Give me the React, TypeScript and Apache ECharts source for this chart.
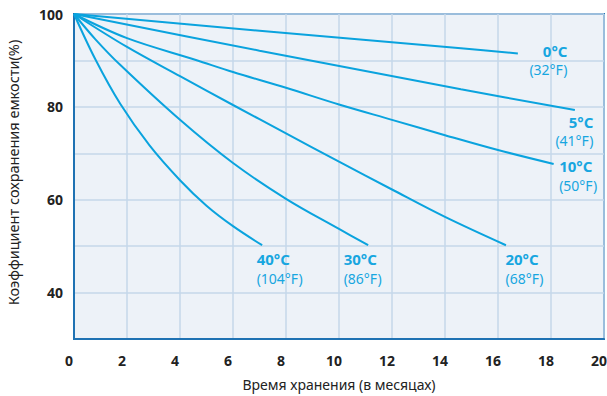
import React, { useEffect, useRef } from "react";
import * as echarts from "echarts";

// X axis (months) and Y axis (capacity %) ticks
const xTicks = [0, 2, 4, 6, 8, 10, 12, 14, 16, 18, 20];
const yLabelTicks = [40, 60, 80, 100];

// Curves: storage time (months) vs. capacity retention (%)
const months0C = [0, 7, 14.6, 16.75];
const cap0C = [100, 96.4, 92.6, 91.5];

const months5C = [0, 7, 14.6, 18.9];
const cap5C = [100, 92.1, 83.8, 79.3];

const months10C = [0, 2, 4.6, 6, 8, 10, 12, 14, 16, 18.1];
const cap10C = [100, 94.8, 90.1, 87.5, 84.1, 80.5, 77.2, 73.9, 70.7, 67.7];

const months20C = [0, 2, 4, 6, 8, 10, 12, 14, 16.3];
const cap20C = [100, 92.9, 86.6, 80.4, 74.3, 68.2, 62.2, 56.3, 50.2];

const months30C = [0, 0.8, 1.75, 4, 6, 8, 10, 11.1];
const cap30C = [100, 94.6, 89, 77.2, 67.9, 60.2, 53.7, 50.2];

const months40C = [0, 0.8, 1.75, 2.85, 4, 5, 6, 7.1];
const cap40C = [100, 90.3, 80.6, 71.7, 64.2, 58.7, 54.3, 50.2];

const celsius = ["0°C", "5°C", "10°C", "20°C", "30°C", "40°C"];
const fahrenheit = ["(32°F)", "(41°F)", "(50°F)", "(68°F)", "(86°F)", "(104°F)"];

const xName = "Время хранения (в месяцах)";
const yName = "Коэффициент сохранения емкости(%)";

const LINE = "#0aa3de";
const LABEL = "#17a6e0";
const BORDER = "#1f72b3";
const GRID = "#c5d7ea";
const FONT = "'Noto Sans', 'DejaVu Sans', sans-serif";

// label placement style per curve: [dx, dy, align]
const labelPlace: [number, number, string][] = [
  [50, -11.5, "right"],
  [19, 2.5, "right"],
  [6, -6.5, "left"],
  [0, 5, "left"],
  [-24, 5, "left"],
  [-5, 5, "left"],
];

export default function App() {
  const ref = useRef<HTMLDivElement>(null);

  useEffect(() => {
    if (!ref.current) return;
    const chart = echarts.init(ref.current, undefined, { renderer: "svg" });
    const xs = [months0C, months5C, months10C, months20C, months30C, months40C];
    const ys = [cap0C, cap5C, cap10C, cap20C, cap30C, cap40C];

    const series = xs.map((mx, i) => {
      const data = mx.map((m, j) => [m, ys[i][j]]);
      const last = data[data.length - 1];
      const [dx, dy, align] = labelPlace[i];
      return {
        type: "line",
        name: celsius[i],
        data,
        smooth: 0.35,
        symbol: "none",
        lineStyle: { color: LINE, width: 2 },
        markPoint: {
          symbol: "rect",
          symbolSize: 1,
          itemStyle: { color: "transparent" },
          silent: true,
          data: [{ coord: last }],
          label: {
            show: true,
            position: [dx, dy],
            align,
            verticalAlign: "top",
            formatter: `{c|${celsius[i]}}\n{f|${fahrenheit[i]}}`,
            rich: {
              c: {
                fontFamily: FONT,
                fontSize: 15,
                fontWeight: "bold",
                color: LABEL,
                lineHeight: 19,
                align,
              },
              f: {
                fontFamily: FONT,
                fontSize: 14,
                color: LABEL,
                lineHeight: 19,
                align,
              },
            },
          },
        },
      };
    });

    chart.setOption({
      animation: false,
      textStyle: { fontFamily: FONT },
      grid: {
        left: 74,
        right: 3,
        top: 14,
        bottom: 57,
        show: true,
        outerBoundsMode: "none",
        containLabel: false,
        backgroundColor: "#edf2f8",
        borderColor: BORDER,
        borderWidth: 2,
      },
      xAxis: {
        type: "value",
        min: xTicks[0],
        max: xTicks[xTicks.length - 1],
        interval: 2,
        name: xName,
        nameLocation: "middle",
        nameGap: 38,
        nameTextStyle: { fontFamily: FONT, fontSize: 14, color: "#222" },
        axisLine: { show: true, lineStyle: { color: BORDER, width: 2 } },
        axisTick: { show: false },
        axisLabel: {
          margin: 14,
          fontFamily: FONT,
          fontSize: 14,
          fontWeight: "bold",
          color: "#222",
          padding: [0, 10, 0, 0],
        },
        splitLine: { show: true, lineStyle: { color: GRID, width: 1.5 } },
      },
      yAxis: {
        type: "value",
        min: 30,
        max: 100,
        interval: 10,
        name: yName,
        nameLocation: "middle",
        nameGap: 54,
        nameRotate: 90,
        nameTextStyle: {
          fontFamily: FONT,
          fontSize: 14.5,
          color: "#222",
          padding: [0, 0, 0, 8],
        },
        axisLine: { show: true, lineStyle: { color: BORDER, width: 2 } },
        axisTick: { show: false },
        axisLabel: {
          margin: 11,
          fontFamily: FONT,
          fontSize: 14,
          fontWeight: "bold",
          color: "#222",
          formatter: (v: number) => (yLabelTicks.includes(v) ? String(v) : ""),
        },
        splitLine: { show: true, lineStyle: { color: GRID, width: 1.5 } },
      },
      series,
    });

    return () => chart.dispose();
  }, []);

  return (
    <div
      ref={ref}
      style={{ position: "fixed", left: 0, top: 0, width: 607, height: 396, background: "#fff" }}
    />
  );
}
